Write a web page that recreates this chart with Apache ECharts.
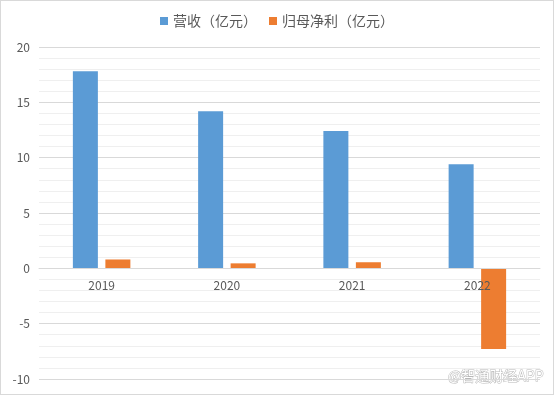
<!DOCTYPE html>
<html><head><meta charset="utf-8">
<script src="https://cdn.jsdelivr.net/npm/echarts@6/dist/echarts.min.js"></script>
<style>html,body{margin:0;padding:0;background:#fff}#c{width:554px;height:395px;box-sizing:border-box;border:1px solid #d9d9d9}</style>
</head><body><div id="c"></div>
<script>
const categories = ['2019', '2020', '2021', '2022'];
const revenue = [17.8, 14.2, 12.4, 9.4];
const netProfit = [0.8, 0.45, 0.55, -7.3];
const seriesNames = ['营收（亿元）', '归母净利（亿元）'];

const chart = echarts.init(document.getElementById('c'), null, {renderer: 'canvas'});
const font = '"Noto Sans CJK SC", "Noto Sans", sans-serif';
const gridTop = 46, gridBottom = 15, H = 393;
const yMin = -10, yMax = 20;
const zeroOffset = -((H - gridTop - gridBottom) * (0 - yMin) / (yMax - yMin));
chart.setOption({
  animation: false,
  textStyle: {fontFamily: font},
  legend: {
    top: 8, left: 'center',
    itemWidth: 8, itemHeight: 8, itemGap: 12,
    icon: 'rect',
    textStyle: {color: '#595959', fontSize: 14, fontFamily: font},
    data: seriesNames
  },
  grid: {left: 38, right: 13, top: gridTop, bottom: gridBottom, containLabel: false, outerBoundsMode: 'none'},
  xAxis: {
    type: 'category', data: categories,
    offset: zeroOffset,
    z: 10,
    axisLine: {show: true, onZero: false, lineStyle: {color: '#d9d9d9'}},
    axisTick: {show: false},
    axisLabel: {color: '#595959', fontSize: 12, margin: 11, fontFamily: font}
  },
  yAxis: {
    type: 'value', min: yMin, max: yMax, interval: 5,
    axisLine: {show: false}, axisTick: {show: false},
    axisLabel: {color: '#595959', fontSize: 12, margin: 9, fontFamily: font},
    splitLine: {lineStyle: {color: '#d9d9d9'}},
    minorTick: {show: false, splitNumber: 5},
    minorSplitLine: {show: true, lineStyle: {color: '#efefef'}}
  },
  series: [
    {name: seriesNames[0], type: 'bar', data: revenue, barWidth: 25, barGap: '30%', itemStyle: {color: '#5B9BD5'}},
    {name: seriesNames[1], type: 'bar', data: netProfit, barWidth: 25, itemStyle: {color: '#ED7D31'}}
  ],
  graphic: [{
    type: 'text', right: 9, bottom: 11,
    style: {text: '@智通财经APP', fill: '#ffffff', stroke: '#b8b8b8', lineWidth: 1, fontSize: 14, fontFamily: font}
  }]
});
</script></body></html>
